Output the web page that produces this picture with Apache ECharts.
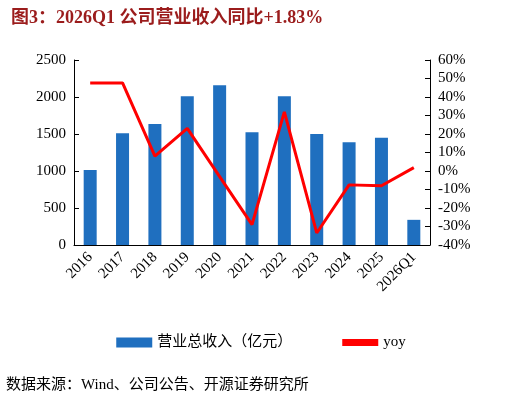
<!DOCTYPE html>
<html><head><meta charset="utf-8">
<script src="https://cdn.jsdelivr.net/npm/echarts@6/dist/echarts.min.js"></script>
<style>body{margin:0;background:#fff}#c{width:522px;height:404px}</style>
</head><body><div id="c"></div>
<script>
var years=['2016','2017','2018','2019','2020','2021','2022','2023','2024','2025','2026Q1'];
var revenue=[1014,1510,1635,2010,2160,1525,2010,1500,1390,1450,340];
var yoy=[47.6,47.6,8,23,-3,-29,32,-33.5,-7.5,-8,1.83];
var leftTicks=[0,500,1000,1500,2000,2500];

var chart=echarts.init(document.getElementById('c'));
var serif='"Liberation Serif","Noto Sans CJK SC",serif';
chart.setOption({
  animation:false,
  title:{text:'图3：2026Q1 公司营业收入同比+1.83%',left:6,top:4,
    textStyle:{color:'#9b1c1c',fontSize:18,fontWeight:'bold',fontFamily:serif}},
  graphic:[
    {type:'text',left:6,top:378,style:{text:'数据来源：Wind、公司公告、开源证券研究所',font:'15px "Liberation Serif","Noto Sans CJK SC"',fill:'#000'}}
  ],
  legend:{top:330,left:'center',itemGap:50,itemWidth:36,itemHeight:10,
    textStyle:{fontSize:15,fontFamily:serif,color:'#000'},
    data:[{name:'营业总收入（亿元）',icon:'rect'},{name:'yoy',icon:'path://M0,0H10V2H0Z'}]},
  grid:{left:74,right:92,top:60,bottom:159},
  xAxis:{type:'category',data:years,
    axisLine:{lineStyle:{color:'#000'}},axisTick:{show:false},
    axisLabel:{rotate:45,color:'#000',fontSize:15,fontFamily:serif,margin:10}},
  yAxis:[
    {type:'value',min:0,max:2500,interval:500,splitLine:{show:false},
      axisLine:{show:true,lineStyle:{color:'#000'}},axisTick:{show:true,inside:true},
      axisLabel:{color:'#000',fontSize:15,fontFamily:serif,
        formatter:function(v){return leftTicks.indexOf(v)>=0?String(v):'';}}},
    {type:'value',min:-40,max:60,interval:10,splitLine:{show:false},
      axisLine:{show:true,lineStyle:{color:'#000'}},axisTick:{show:true,inside:true},
      axisLabel:{color:'#000',fontSize:15,fontFamily:serif,formatter:'{value}%'}}
  ],
  series:[
    {name:'营业总收入（亿元）',type:'bar',data:revenue,barWidth:13,itemStyle:{color:'#1f6fbf'}},
    {name:'yoy',type:'line',yAxisIndex:1,data:yoy,symbol:'none',
      lineStyle:{color:'#ff0000',width:3},itemStyle:{color:'#ff0000'}}
  ]
});
</script></body></html>
